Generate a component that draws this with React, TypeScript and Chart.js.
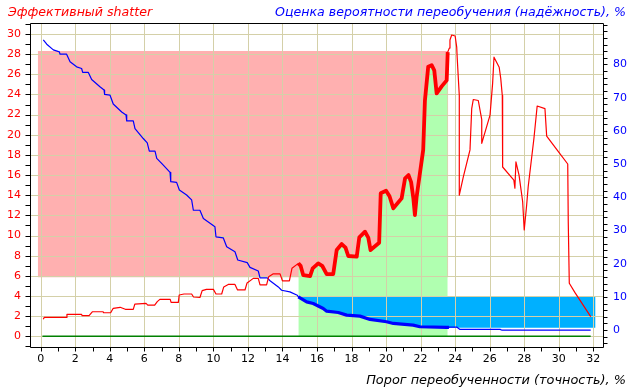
import React, { useEffect, useRef } from 'react';
import { Chart, registerables } from 'chart.js';

Chart.register(...registerables);

// ---- axis ranges ----
const xRange = [-0.62, 32.62];
const shatterRange = [-1.06, 31.09];
const reliabilityRange = [-5.1, 92.5];
const reliabilityTickMax = 80;

// ---- effective shatter (left axis), thin part before the band ----
const shatterLeft = [
  [0.15, 1.69], [0.2, 1.87], [1.5, 1.87], [1.52, 2.18], [2.37, 2.18], [2.4, 2.05], [2.8, 2.05],
  [3.0, 2.44], [3.6, 2.44], [3.65, 2.34], [4.05, 2.34], [4.2, 2.78], [4.6, 2.88], [4.9, 2.68],
  [5.36, 2.68], [5.45, 3.2], [6.1, 3.27], [6.2, 3.1], [6.6, 3.1], [6.75, 3.44], [6.9, 3.67],
  [7.5, 3.67], [7.55, 3.37], [7.97, 3.37], [8.02, 4.1], [8.3, 4.2], [8.74, 4.2], [8.85, 3.9],
  [9.22, 3.85], [9.35, 4.53], [9.6, 4.66], [10.0, 4.66], [10.15, 4.2], [10.48, 4.2], [10.6, 4.9],
  [10.86, 5.15], [11.25, 5.15], [11.4, 4.6], [11.83, 4.6], [11.95, 5.3], [12.31, 5.75], [12.6, 5.75],
  [12.7, 5.1], [13.08, 5.1], [13.2, 5.9], [13.47, 6.2], [13.86, 6.2], [14.0, 5.5], [14.4, 5.5],
  [14.55, 6.75], [14.92, 7.24],
];
// ---- effective shatter, bold part inside the band ----
const shatterBold = [
  [14.92, 7.24], [15.05, 7.0], [15.2, 6.08], [15.6, 5.98], [15.75, 6.75], [16.07, 7.24], [16.3, 7.0],
  [16.56, 6.18], [16.94, 6.18], [17.14, 8.56], [17.43, 9.16], [17.65, 8.8], [17.81, 7.97], [18.3, 7.9],
  [18.45, 9.82], [18.78, 10.38], [18.97, 9.8], [19.1, 8.56], [19.6, 9.29], [19.69, 14.19], [20.0, 14.45],
  [20.2, 13.9], [20.42, 12.7], [20.9, 13.69], [21.1, 15.67], [21.3, 16.0], [21.45, 15.3], [21.58, 13.69],
  [21.67, 12.03], [21.77, 13.85], [21.96, 16.17], [22.15, 18.5], [22.25, 23.4], [22.44, 26.75],
  [22.64, 26.9], [22.79, 26.4], [22.93, 24.1], [23.22, 24.8], [23.51, 25.4], [23.57, 28.2],
];
// ---- effective shatter, thin part after the band ----
const shatterRight = [
  [23.66, 28.6], [23.7, 29.4], [23.8, 29.9], [24.0, 29.8], [24.09, 28.7], [24.12, 27.6], [24.24, 23.9],
  [24.24, 14.0], [24.47, 15.8], [24.86, 18.5], [24.96, 22.6], [25.05, 23.5], [25.34, 23.4], [25.54, 21.5],
  [25.54, 19.15], [26.02, 21.95], [26.17, 25.1], [26.25, 27.7], [26.55, 26.7], [26.64, 25.6], [26.73, 23.9],
  [26.75, 16.8], [27.4, 15.5], [27.46, 14.7], [27.52, 17.3], [27.7, 16.0], [27.91, 13.35], [28.0, 10.55],
  [28.14, 13.0], [28.23, 14.84], [28.56, 19.6], [28.75, 22.85], [29.2, 22.6], [29.3, 19.87], [29.9, 18.5],
  [30.52, 17.1], [30.55, 11.37], [30.61, 5.26], [30.94, 4.33], [31.85, 1.95],
];

// ---- overfitting probability estimate (right axis, %) ----
const reliabilityLeft = [
  [0.15, 87.4], [0.35, 86.1], [0.73, 84.4], [1.08, 83.8], [1.12, 83.1], [1.5, 83.1], [1.7, 80.8],
  [2.08, 79.3], [2.37, 78.8], [2.43, 77.6], [2.76, 77.6], [2.95, 75.5], [3.43, 73.3], [3.67, 72.3],
  [3.7, 71.0], [4.01, 70.8], [4.2, 68.1], [4.69, 65.7], [4.94, 64.8], [4.98, 63.0], [5.36, 63.0],
  [5.46, 60.7], [5.94, 57.7], [6.17, 56.4], [6.29, 53.9], [6.62, 53.9], [6.72, 51.7], [7.1, 49.7],
  [7.49, 47.5], [7.53, 44.7], [7.87, 44.5], [8.03, 42.2], [8.45, 40.7], [8.74, 39.2], [8.84, 36.1],
  [9.22, 36.1], [9.42, 33.6], [10.09, 31.1], [10.15, 28.1], [10.57, 27.8], [10.77, 25.1], [11.25, 23.6],
  [11.41, 21.1], [11.96, 20.3], [12.12, 18.9], [12.6, 17.8], [12.7, 15.75], [13.12, 15.75], [13.28, 14.85],
  [13.76, 13.0], [13.95, 12.0], [14.43, 11.5], [14.86, 10.5], [14.92, 10.0],
];
const reliabilityBold = [
  [14.92, 10.0], [15.4, 8.5], [15.78, 8.0], [16.36, 6.5], [16.56, 5.7], [17.23, 5.3], [17.72, 4.5],
  [18.49, 4.2], [19.07, 3.2], [20.03, 2.5], [20.42, 2.0], [21.57, 1.5], [21.96, 1.0], [23.5, 0.8],
  [23.64, 0.8],
];
const reliabilityRight = [
  [23.64, 0.9], [24.09, 0.9], [24.28, 0.2], [26.6, 0.2], [26.69, 0], [31.85, 0],
];

// ---- shaded regions ----
const overfitBandX = [-0.17, 23.6];
const overfitBandY = [5.85, 28.3]; // left axis
const reliabilityBandX = [23.64, 32.13];
const reliabilityBandY = [0.7, 10]; // right axis
const zeroLineX = [0.1, 31.85];

const pts = (a: number[][]) => a.map(([x, y]) => ({ x, y }));

const RED = '#ff0000';
const BLUE = '#0000ff';
const GRID = 'rgb(212,208,168)';
const TICK_FONT = { family: 'DejaVu Sans', size: 11 };
const TITLE_FONT = 'italic 12.6px "DejaVu Sans"';
const XTITLE_FONT = 'italic 12.9px "DejaVu Sans"';

export default function App() {
  const ref = useRef<HTMLCanvasElement>(null);

  useEffect(() => {
    const canvas = ref.current;
    if (!canvas) return;

    const decor = {
      id: 'decor',
      beforeDatasetsDraw(chart: any) {
        const { ctx, chartArea: a, scales } = chart;
        const x = scales.x;
        const y = scales.y;
        ctx.save();
        ctx.strokeStyle = GRID;
        ctx.lineWidth = 1;
        ctx.beginPath();
        x.ticks.forEach((t: any) => {
          const px = Math.round(x.getPixelForValue(t.value)) + 0.5;
          ctx.moveTo(px, a.top);
          ctx.lineTo(px, a.bottom);
        });
        y.ticks.forEach((t: any) => {
          const py = Math.round(y.getPixelForValue(t.value)) + 0.5;
          ctx.moveTo(a.left, py);
          ctx.lineTo(a.right, py);
        });
        ctx.stroke();
        ctx.restore();
      },
      afterDraw(chart: any) {
        const { ctx, chartArea: a, scales } = chart;
        const x = scales.x;
        const y = scales.y;
        const y2 = scales.y2;
        const L = a.left + 0.5;
        const R = a.right - 0.5;
        const T = a.top + 0.5;
        const B = a.bottom + 0.5;
        ctx.save();
        ctx.strokeStyle = '#000';
        ctx.lineWidth = 1;
        ctx.beginPath();
        ctx.moveTo(L, T);
        ctx.lineTo(R, T);
        ctx.lineTo(R, B);
        ctx.lineTo(L, B);
        ctx.closePath();
        for (let v = Math.ceil(y.min); v <= y.max; v += 1) {
          const py = Math.round(y.getPixelForValue(v)) + 0.5;
          ctx.moveTo(L - 5, py);
          ctx.lineTo(L, py);
        }
        for (let v = Math.ceil(x.min); v <= x.max; v += 1) {
          const px = Math.round(x.getPixelForValue(v)) + 0.5;
          ctx.moveTo(px, B);
          ctx.lineTo(px, B + 4);
        }
        for (let v = Math.ceil(y2.min / 2) * 2; v <= y2.max; v += 2) {
          const py = Math.round(y2.getPixelForValue(v)) + 0.5;
          ctx.moveTo(R, py);
          ctx.lineTo(R + 4, py);
        }
        ctx.stroke();

        ctx.font = TITLE_FONT;
        ctx.textBaseline = 'alphabetic';
        ctx.fillStyle = RED;
        ctx.textAlign = 'left';
        ctx.fillText('Эффективный shatter', 8, 16);
        ctx.fillStyle = BLUE;
        ctx.textAlign = 'right';
        ctx.fillText('Оценка вероятности переобучения (надёжность), %', 626, 16);
        ctx.font = XTITLE_FONT;
        ctx.fillStyle = '#000';
        ctx.fillText('Порог переобученности (точность), %', 626, 384);
        ctx.restore();
      },
    };

    const line = (data: any, color: string, width: number, order: number, yAxisID = 'y') => ({
      data,
      yAxisID,
      borderColor: color,
      borderWidth: width,
      pointRadius: 0,
      tension: 0,
      fill: false,
      order,
      borderJoinStyle: 'round',
    });

    const chart = new Chart(canvas, {
      type: 'line',
      data: {
        datasets: [
          {
            data: pts([[overfitBandX[0], overfitBandY[0]], [overfitBandX[1], overfitBandY[0]]]),
            yAxisID: 'y',
            borderColor: 'rgba(0,0,0,0)',
            borderWidth: 1,
            pointRadius: 0,
            backgroundColor: 'rgb(255,176,176)',
            fill: { value: overfitBandY[1] },
            order: 20,
          } as any,
          {
            data: pts(shatterBold),
            yAxisID: 'y',
            borderColor: 'rgba(0,0,0,0)',
            borderWidth: 1,
            pointRadius: 0,
            backgroundColor: 'rgb(176,255,176)',
            fill: 'origin',
            order: 19,
          } as any,
          {
            data: pts([
              ...reliabilityBold,
              [reliabilityBandX[0], reliabilityBandY[0]],
              [reliabilityBandX[1], reliabilityBandY[0]],
            ]),
            yAxisID: 'y2',
            borderColor: 'rgba(0,0,0,0)',
            borderWidth: 1,
            pointRadius: 0,
            backgroundColor: 'rgb(0,176,255)',
            fill: { value: reliabilityBandY[1] },
            order: 18,
          } as any,
          line(pts([[zeroLineX[0], 0], [zeroLineX[1], 0]]), '#008000', 1.5, 8),
          line(pts([...reliabilityLeft, ...reliabilityBold, ...reliabilityRight]), BLUE, 1.2, 7, 'y2'),
          line(pts(reliabilityBold), BLUE, 3.2, 6, 'y2'),
          line(pts([...shatterLeft, ...shatterBold, ...shatterRight]), RED, 1.2, 5),
          line(pts(shatterBold), RED, 3.8, 4),
        ],
      },
      options: {
        animation: false,
        responsive: true,
        maintainAspectRatio: false,
        layout: { padding: { top: 23, left: 0, right: 0, bottom: 0 } },
        plugins: {
          legend: { display: false },
          tooltip: { enabled: false },
          filler: { drawTime: 'beforeDatasetsDraw' },
        } as any,
        scales: {
          x: {
            type: 'linear',
            min: xRange[0],
            max: xRange[1],
            grid: { display: false, drawTicks: false },
            border: { display: false },
            ticks: { stepSize: 2, includeBounds: false, color: '#000', font: TICK_FONT, padding: 6, maxRotation: 0 },
            afterFit: (s: any) => { s.height = 45; },
          },
          y: {
            type: 'linear',
            position: 'left',
            min: shatterRange[0],
            max: shatterRange[1],
            grid: { display: false, drawTicks: false },
            border: { display: false },
            ticks: { stepSize: 2, includeBounds: false, color: RED, font: TICK_FONT, padding: 9 },
            afterFit: (s: any) => { s.width = 30; },
          },
          y2: {
            type: 'linear',
            position: 'right',
            min: reliabilityRange[0],
            max: reliabilityRange[1],
            grid: { display: false, drawTicks: false },
            border: { display: false },
            ticks: { stepSize: 10, includeBounds: false, color: BLUE, font: TICK_FONT, padding: 9 },
            afterBuildTicks: (s: any) => {
              s.ticks = s.ticks.filter((t: any) => t.value >= 0 && t.value <= reliabilityTickMax);
            },
            afterFit: (s: any) => { s.width = 30; },
          },
        },
      } as any,
      plugins: [decor],
    });

    return () => chart.destroy();
  }, []);

  return (
    <div style={{ position: 'absolute', left: 0, top: 0, width: 634, height: 392, background: '#fff' }}>
      <canvas ref={ref} />
    </div>
  );
}
